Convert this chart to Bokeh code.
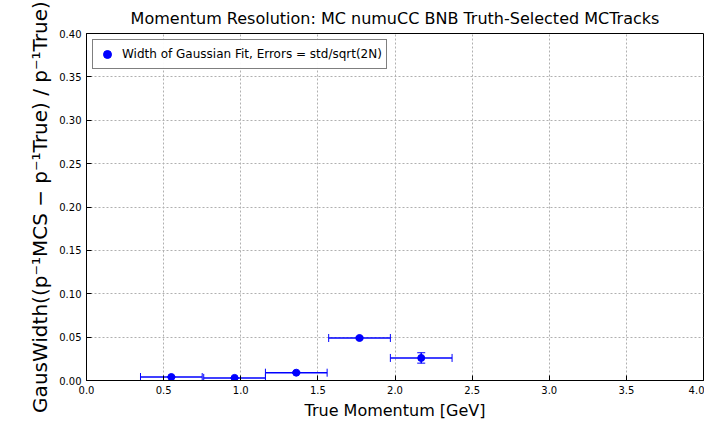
from bokeh.plotting import figure
from bokeh.models import Range1d, Legend, LegendItem, Whisker, ColumnDataSource, TeeHead
from bokeh.embed import file_html
from bokeh.resources import INLINE

# bin centres, widths and gaussian widths
mom = [0.55, 0.96, 1.36, 1.77, 2.17]
xerr = [0.2, 0.2, 0.2, 0.2, 0.2]
width = [0.004, 0.003, 0.009, 0.049, 0.026]
yerr = [0.0006, 0.0005, 0.0010, 0.0012, 0.0060]

src = ColumnDataSource(dict(
    x=mom, y=width,
    xl=[m - e for m, e in zip(mom, xerr)], xh=[m + e for m, e in zip(mom, xerr)],
    yl=[w - e for w, e in zip(width, yerr)], yh=[w + e for w, e in zip(width, yerr)],
))

p = figure(width=704, height=422, output_backend="svg", toolbar_location=None,
           x_range=Range1d(0, 4.0), y_range=Range1d(0, 0.40),
           min_border_left=86, min_border_right=1, min_border_top=10, min_border_bottom=10)
p.title.text = "Momentum Resolution: MC numuCC BNB Truth-Selected MCTracks"
p.title.align = "center"
p.title.text_font = "DejaVu Sans"
p.title.text_font_size = "16px"
p.title.text_font_style = "normal"
p.title.text_color = "black"
p.title.standoff = 12

p.xaxis.axis_label = "True Momentum [GeV]"
p.yaxis.axis_label = "GausWidth((p⁻¹MCS − p⁻¹True) / p⁻¹True)"
p.xaxis.axis_label_text_font_size = "16px"
p.yaxis.axis_label_text_font_size = "20px"
for ax in (p.xaxis, p.yaxis):
    ax.axis_label_text_font = "DejaVu Sans"
    ax.axis_label_text_font_style = "normal"
    ax.axis_label_text_color = "black"
    ax.major_label_text_color = "black"
    ax.major_label_text_font = "DejaVu Sans"
    ax.major_label_text_font_size = "10px"
    ax.minor_tick_line_color = None
    ax.major_tick_in = 5
    ax.major_tick_out = 0
    ax.axis_label_standoff = 4
xt = [0, 0.5, 1, 1.5, 2, 2.5, 3, 3.5, 4]
p.xaxis.ticker = xt
p.xaxis.major_label_overrides = {v: f"{v:.1f}" for v in xt}
yt = [i * 0.05 for i in range(9)]
p.yaxis.ticker = yt
p.yaxis.major_label_overrides = {v: f"{v:.2f}" for v in yt}

p.grid.grid_line_color = "#b0b0b0"
p.grid.grid_line_dash = "2 2"
p.outline_line_color = "black"
p.outline_line_width = 1

p.add_layout(Whisker(source=src, base="y", lower="xl", upper="xh", dimension="width",
                     line_color="blue", line_width=1.5,
                     upper_head=TeeHead(size=8, line_color="blue"),
                     lower_head=TeeHead(size=8, line_color="blue")))
p.add_layout(Whisker(source=src, base="x", lower="yl", upper="yh", dimension="height",
                     line_color="blue", line_width=1.5,
                     upper_head=TeeHead(size=8, line_color="blue"),
                     lower_head=TeeHead(size=8, line_color="blue")))
r = p.scatter("x", "y", source=src, size=7, color="blue")

leg = Legend(items=[LegendItem(label="Width of Gaussian Fit, Errors = std/sqrt(2N)", renderers=[r])],
             location="top_left", border_line_color="black", label_text_font="DejaVu Sans",
             label_text_font_size="12px", label_text_color="black", padding=4, margin=6, spacing=0)
p.add_layout(leg)

open("out.html", "w").write(file_html(p, INLINE))
